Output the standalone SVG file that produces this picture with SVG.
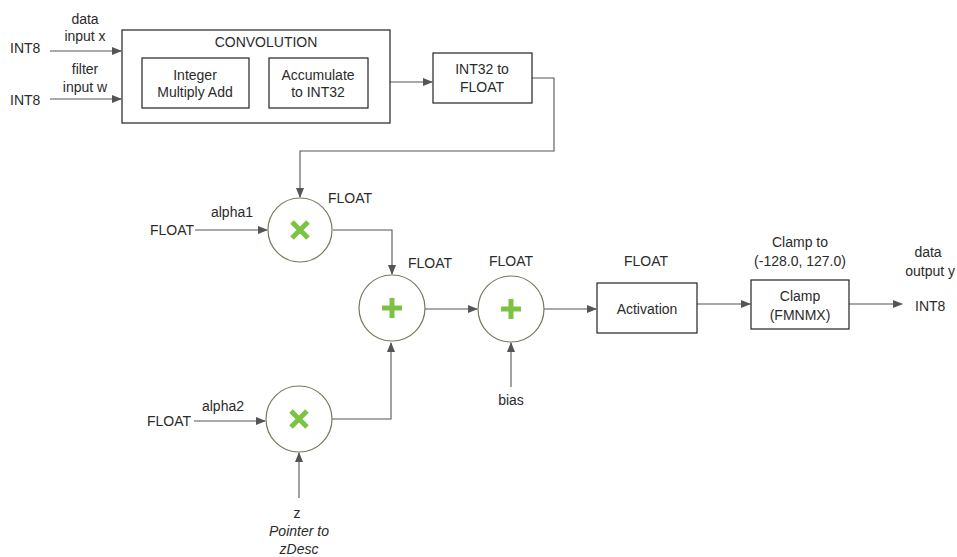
<svg xmlns="http://www.w3.org/2000/svg" width="957" height="557" viewBox="0 0 957 557">
<defs>
<marker id="ah" markerWidth="10" markerHeight="8" refX="9" refY="4" orient="auto" markerUnits="userSpaceOnUse">
<path d="M0,0 L10,4 L0,8 z" fill="#555"/>
</marker>
<style>
text{font-family:"Liberation Sans",Arial,sans-serif;font-size:14px;fill:#2b2b2b;}
.c{text-anchor:middle;}
.e{text-anchor:end;}
.box{fill:#fff;stroke:#222;stroke-width:1.2;}
.ln{fill:none;stroke:#555;stroke-width:1.1;}
.ar{fill:none;stroke:#555;stroke-width:1.1;marker-end:url(#ah);}
.circ{fill:#fff;stroke:#6f7d5c;stroke-width:1.2;}
.sym{stroke:#7cc243;stroke-width:5;stroke-linecap:butt;fill:none;}
.it{font-style:italic;}
</style>
</defs>
<rect width="957" height="557" fill="#fff"/>

<g id="connectors">
<line class="ar" x1="50" y1="51" x2="121" y2="51"/>
<line class="ar" x1="50" y1="99" x2="121" y2="99"/>
<line class="ar" x1="249" y1="83" x2="268" y2="83"/>
<line class="ar" x1="390" y1="82" x2="432" y2="82"/>
<polyline class="ar" points="532,78 554,78 554,151 300,151 300,197"/>
<line class="ar" x1="195" y1="230" x2="267" y2="230"/>
<polyline class="ar" points="333,230 392,230 392,274"/>
<line class="ar" x1="194" y1="421" x2="265" y2="421"/>
<polyline class="ar" points="332,419 391,419 391,343"/>
<line class="ar" x1="299" y1="498" x2="299" y2="453"/>
<line class="ar" x1="425" y1="309" x2="477" y2="309"/>
<line class="ar" x1="511" y1="387" x2="511" y2="343"/>
<line class="ar" x1="544" y1="309" x2="596" y2="309"/>
<line class="ar" x1="697" y1="304" x2="750" y2="304"/>
<line class="ar" x1="849" y1="304" x2="902" y2="304"/>
</g>

<g id="inputs">
<text x="10" y="53">INT8</text>
<text x="10" y="105">INT8</text>
<text class="c" x="85" y="24">data</text>
<text class="c" x="85" y="41">input x</text>
<text class="c" x="85" y="74">filter</text>
<text class="c" x="85" y="92">input w</text>
</g>

<g id="convolution">
<rect class="box" x="122" y="30" width="268" height="93"/>
<text class="c" x="266" y="47">CONVOLUTION</text>
</g>
<g id="intmul">
<rect class="box" x="142" y="58" width="107" height="50"/>
<text class="c" x="195" y="80">Integer</text>
<text class="c" x="195" y="97">Multiply Add</text>
</g>
<g id="accum">
<rect class="box" x="269" y="58" width="99" height="50"/>
<text class="c" x="318" y="80">Accumulate</text>
<text class="c" x="318" y="97">to INT32</text>
</g>
<g id="int32tofloat">
<rect class="box" x="433" y="53" width="99" height="50"/>
<text class="c" x="482" y="74">INT32 to</text>
<text class="c" x="482" y="92">FLOAT</text>
</g>

<g id="mul1">
<circle class="circ" cx="300" cy="230" r="32"/>
<path class="sym" d="M292,222 L308,238 M308,222 L292,238"/>
</g>
<text x="150" y="235">FLOAT</text>
<text class="c" x="232" y="217">alpha1</text>
<text x="328" y="203">FLOAT</text>

<g id="mul2">
<circle class="circ" cx="299" cy="419" r="33"/>
<path class="sym" d="M291,411 L307,427 M307,411 L291,427"/>
</g>
<text x="147" y="426">FLOAT</text>
<text class="c" x="223" y="411">alpha2</text>
<text class="c" x="297" y="518">z</text>
<text class="c it" x="299" y="536">Pointer to</text>
<text class="c it" x="299" y="554">zDesc</text>

<g id="add1">
<circle class="circ" cx="392" cy="308" r="33"/>
<path class="sym" d="M392,298 L392,318 M382,308 L402,308"/>
</g>
<text x="408" y="268">FLOAT</text>

<g id="add2">
<circle class="circ" cx="511" cy="309" r="33"/>
<path class="sym" d="M511,299 L511,319 M501,309 L521,309"/>
</g>
<text class="c" x="511" y="266">FLOAT</text>
<text class="c" x="511" y="405">bias</text>

<g id="activation">
<rect class="box" x="597" y="283" width="100" height="50"/>
<text class="c" x="647" y="314">Activation</text>
</g>
<text class="c" x="646" y="266">FLOAT</text>

<g id="clamp">
<rect class="box" x="751" y="280" width="98" height="49"/>
<text class="c" x="800" y="301">Clamp</text>
<text class="c" x="800" y="320">(FMNMX)</text>
</g>
<text class="c" x="800" y="247">Clamp to</text>
<text class="c" x="800" y="266">(-128.0, 127.0)</text>

<g id="output">
<text class="c" x="928" y="257">data</text>
<text class="e" x="955" y="276">output y</text>
<text x="915" y="311">INT8</text>
</g>
</svg>
